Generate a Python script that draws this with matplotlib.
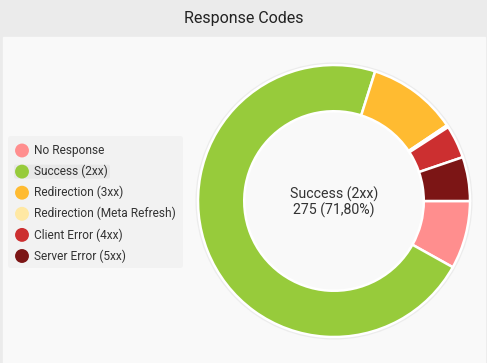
import matplotlib.pyplot as plt
from matplotlib.patches import Rectangle, FancyBboxPatch, Circle

plt.rcParams['font.family'] = ['Roboto', 'DejaVu Sans']

# data
Labels = ['No Response', 'Success (2xx)', 'Redirection (3xx)',
          'Redirection (Meta Refresh)', 'Client Error (4xx)', 'Server Error (5xx)']
Counts = [31, 275, 41, 1, 15, 20]
Colors = ['#ff8e8e', '#97cb3b', '#ffbb31', '#ffe8a3', '#cc2f30', '#7c1515']
Title = 'Response Codes'
Highlight = 1

W, H = 487, 363
fig = plt.figure(figsize=(W / 100, H / 100), dpi=100)

# background: title bar and panel (pixel coords, y downwards)
bg = fig.add_axes([0, 0, 1, 1])
bg.set_xlim(0, W)
bg.set_ylim(H, 0)
bg.axis('off')
bg.add_patch(Rectangle((0, 0), W, H, color='#ebebeb', zorder=0))
bg.add_patch(Rectangle((3, 37), W - 5, H - 37, color='#f9f9f9', zorder=1))
bg.text(W / 2, 19, Title, ha='center', va='center', fontsize=11.5, color='#222222')

# legend drawn by hand
bg.add_patch(FancyBboxPatch((8, 136), 175, 132, boxstyle='round,pad=0,rounding_size=3',
                            fc='#f2f2f2', ec='none', zorder=2))
rowY = [150.5 + 21.1 * i for i in range(len(Labels))]
bg.add_patch(FancyBboxPatch((14, rowY[Highlight] - 7), 96, 14,
                            boxstyle='round,pad=0,rounding_size=2',
                            fc='#e8e8e8', ec='none', zorder=3))
bg.scatter([22] * len(Labels), rowY, s=100, c=Colors, zorder=4, linewidths=0)
for lab, y in zip(Labels, rowY):
    bg.text(34, y, lab, ha='left', va='center', fontsize=8.6, color='#333333', zorder=5)

# donut
cx, cy, R = 334, 201, 136
box = 140
ax = fig.add_axes([(cx - box) / W, (H - cy - box) / H, 2 * box / W, 2 * box / H])
ax.set_xlim(-1, 1)
ax.set_ylim(-1, 1)
ax.axis('off')
rad = R / box
ax.add_patch(Circle((0, 0), rad + 1.5 / box, fc='none', ec='#ececec', lw=1.5, zorder=0))
ax.pie(Counts, colors=Colors, startangle=0, counterclock=False, radius=rad,
       wedgeprops=dict(width=rad * 0.34, edgecolor='white', linewidth=1.8))
ax.set_xlim(-1, 1)
ax.set_ylim(-1, 1)

pct = 100.0 * Counts[Highlight] / sum(Counts)
centerText = '{0}\n{1} ({2:.2f}%)'.format(Labels[Highlight], Counts[Highlight], pct).replace('.', ',')
ax.text(0, -1.5 / box, centerText, ha='center', va='center', fontsize=10.2,
        color='#333333', linespacing=1.05)

fig.savefig('out.png', dpi=100)
